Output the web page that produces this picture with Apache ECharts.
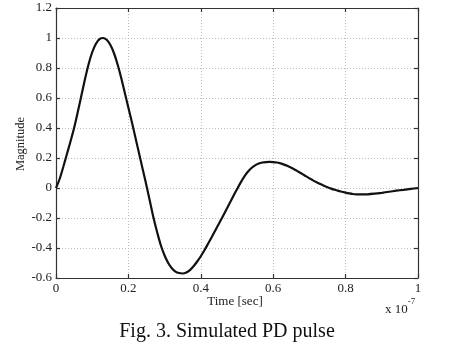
<!DOCTYPE html>
<html>
<head>
<meta charset="utf-8">
<script src="https://cdn.jsdelivr.net/npm/echarts@6/dist/echarts.min.js"></script>
<style>
  html, body { margin: 0; padding: 0; background: #fff; }
  #chart { width: 452px; height: 342px; }
</style>
</head>
<body>
<div id="chart"></div>
<script>
// time axis (x 10^-7 sec) and pulse magnitude
var timeVals = [0, 0.01, 0.02, 0.03, 0.04, 0.05, 0.06, 0.07, 0.08, 0.09,
  0.10, 0.11, 0.12, 0.13, 0.14, 0.15, 0.16, 0.17, 0.18, 0.19,
  0.20, 0.21, 0.22, 0.23, 0.24, 0.25, 0.26, 0.27, 0.28, 0.29,
  0.30, 0.31, 0.32, 0.33, 0.34, 0.35, 0.36, 0.37, 0.38, 0.39,
  0.40, 0.41, 0.42, 0.43, 0.44, 0.45, 0.46, 0.47, 0.48, 0.49,
  0.50, 0.51, 0.52, 0.53, 0.54, 0.55, 0.56, 0.57, 0.58, 0.59,
  0.60, 0.61, 0.62, 0.63, 0.64, 0.65, 0.66, 0.67, 0.68, 0.69,
  0.70, 0.71, 0.72, 0.73, 0.74, 0.75, 0.76, 0.77, 0.78, 0.79,
  0.80, 0.81, 0.82, 0.83, 0.84, 0.86, 0.88, 0.90, 0.92, 0.94,
  0.96, 0.98, 1.0];
var magVals = [0, 0.06, 0.14, 0.225, 0.31, 0.40, 0.505, 0.615, 0.725, 0.825,
  0.905, 0.96, 0.992, 1.0, 0.988, 0.955, 0.9, 0.825, 0.735, 0.635,
  0.535, 0.435, 0.33, 0.225, 0.12, 0.015, -0.095, -0.205, -0.30, -0.385,
  -0.45, -0.50, -0.535, -0.557, -0.567, -0.57, -0.563, -0.547, -0.522, -0.49,
  -0.455, -0.415, -0.372, -0.328, -0.283, -0.238, -0.193, -0.147, -0.1, -0.053,
  -0.008, 0.036, 0.076, 0.108, 0.133, 0.151, 0.163, 0.17, 0.173, 0.174,
  0.173, 0.17, 0.164, 0.156, 0.146, 0.135, 0.122, 0.108, 0.094, 0.079,
  0.065, 0.051, 0.038, 0.026, 0.015, 0.005, -0.004, -0.012, -0.019, -0.025,
  -0.031, -0.036, -0.04, -0.042, -0.043, -0.042, -0.038, -0.032, -0.025, -0.018,
  -0.012, -0.006, 0.0];
var xTicks = { min: 0, max: 1, step: 0.2 };
var yTicks = { min: -0.6, max: 1.2, step: 0.2 };

(function () {
  var myChart = echarts.init(document.getElementById('chart'));
  var serif = '"Liberation Serif", "DejaVu Serif", serif';

  var pts = timeVals.map(function (t, i) { return [t, magVals[i]]; });

  var lineStyleAxis = { color: '#333', width: 1.2 };
  var gridDots = { show: true, lineStyle: { color: '#bdbdbd', type: [1, 2], width: 1 } };

  var option = {
    animation: false,
    grid: { left: 56, right: 34, top: 8, bottom: 64 },
    xAxis: [
      {
        type: 'value', min: xTicks.min, max: xTicks.max, interval: xTicks.step,
        axisLine: { onZero: false, lineStyle: lineStyleAxis },
        axisTick: { inside: true, length: 4, lineStyle: lineStyleAxis },
        axisLabel: { color: '#222', fontFamily: serif, fontSize: 13, margin: 4 },
        splitLine: gridDots
      },
      {
        type: 'value', position: 'top', min: xTicks.min, max: xTicks.max, interval: xTicks.step,
        axisLine: { onZero: false, lineStyle: lineStyleAxis },
        axisTick: { inside: true, length: 4, lineStyle: lineStyleAxis },
        axisLabel: { show: false }, splitLine: { show: false }
      }
    ],
    yAxis: [
      {
        type: 'value', min: yTicks.min, max: yTicks.max, interval: yTicks.step,
        axisLine: { onZero: false, lineStyle: lineStyleAxis },
        axisTick: { inside: true, length: 4, lineStyle: lineStyleAxis },
        axisLabel: { color: '#222', fontFamily: serif, fontSize: 13, margin: 4 },
        splitLine: gridDots
      },
      {
        type: 'value', position: 'right', min: yTicks.min, max: yTicks.max, interval: yTicks.step,
        axisLine: { onZero: false, lineStyle: lineStyleAxis },
        axisTick: { inside: true, length: 4, lineStyle: lineStyleAxis },
        axisLabel: { show: false }, splitLine: { show: false }
      }
    ],
    series: [
      {
        type: 'line', data: pts, smooth: 0.3, showSymbol: false,
        lineStyle: { color: '#111', width: 2.2 }
      }
    ],
    graphic: [
      {
        type: 'text', x: 21, y: 144, rotation: Math.PI / 2,
        style: { text: 'Magnitude', font: '12.5px ' + serif, fill: '#222', textAlign: 'center', textVerticalAlign: 'middle' }
      },
      {
        type: 'text', x: 235, y: 302,
        style: { text: 'Time [sec]', font: '13px ' + serif, fill: '#222', textAlign: 'center', textVerticalAlign: 'middle' }
      },
      {
        type: 'text', x: 385, y: 297,
        style: {
          text: '{a|x 10}{b|-7}', fill: '#222', textVerticalAlign: 'top',
          rich: {
            a: { font: '13px ' + serif, fill: '#222', padding: [6, 0, 0, 0] },
            b: { font: '9px ' + serif, fill: '#222', verticalAlign: 'top' }
          }
        }
      },
      {
        type: 'text', x: 227, y: 332,
        style: { text: 'Fig. 3. Simulated PD pulse', font: '20px ' + serif, fill: '#111', textAlign: 'center', textVerticalAlign: 'middle' }
      }
    ]
  };
  myChart.setOption(option);
})();
</script>
</body>
</html>
